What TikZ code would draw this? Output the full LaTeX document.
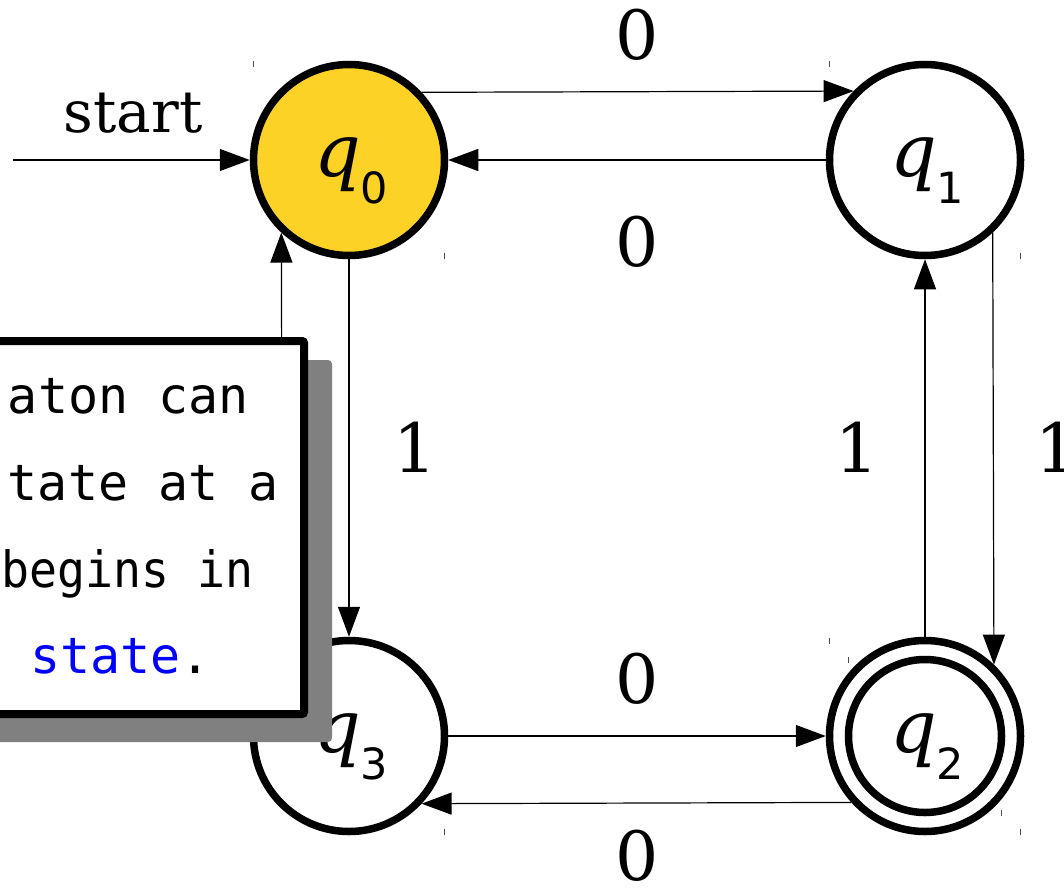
\documentclass[tikz,border=0pt]{standalone}
\usepackage{fontspec}
\setmainfont{DejaVu Serif}
\setsansfont{DejaVu Sans}
\setmonofont{DejaVu Sans Mono}
\usetikzlibrary{arrows.meta}
\definecolor{stateyellow}{HTML}{FDD227}
\definecolor{shadowgray}{HTML}{808080}
\definecolor{noteblue}{HTML}{0000FF}
\newcommand{\qsubscript}[1]{\raisebox{-27pt}{\sffamily\fontsize{43}{43}\selectfont #1}}
\newcommand{\qname}[1]{{\itshape q}\qsubscript{#1}}
\begin{document}
\begin{tikzpicture}[x=1pt,y=-1pt,
  state/.style={circle, draw=black, line width=7.5pt, minimum size=191pt, inner sep=0pt, fill=white},
  edge/.style={draw=black, line width=1.2pt, -{Triangle[length=30pt,width=22pt]}},
  elabel/.style={font=\fontsize{68}{68}\selectfont, inner sep=0pt},
  qlabel/.style={font=\fontsize{73}{73}\selectfont, inner sep=0pt, anchor=base west},
  tickmark/.style={line width=1.5pt, draw=black!70},
  notebox/.style={fill=white, draw=black, line width=8pt, rounded corners=2pt},
  noteshadow/.style={fill=shadowgray, rounded corners=4pt},
  notetext/.style={font=\ttfamily\fontsize{50}{50}\selectfont, inner sep=0pt}
]
\useasboundingbox (0,0) rectangle (1064,888);

% states
\node[state, fill=stateyellow] (q0) at (349,160) {};
\node[state] (q1) at (925,160) {};
\node[state] (q2) at (925,736) {};
\node[state] (q3) at (349,736) {};
\draw[line width=7.5pt] (q2.center) circle[radius=76.5];

% state labels
\node[qlabel] (lq0) at (314,176) {\qname{0}};
\node[qlabel] (lq1) at (890,176) {\qname{1}};
\node[qlabel] (lq2) at (890,752) {\qname{2}};
\node[qlabel] (lq3) at (314,752) {\qname{3}};

% start arrow
\coordinate (startpt) at (13,160);
\draw[edge] (startpt) -- (q0.west);
\node[font=\fontsize{58}{58}\selectfont, inner sep=0pt, anchor=base] (startlbl) at (133,132) {start};

% transitions
\draw[edge] (q0.43.4) -- (q1.136.6);
\draw[edge] (q1.west) -- (q0.east);
\draw[edge] (q0.south) -- (q3.north);
\draw[edge] (q3.132.5) -- (q0.227.5);
\draw[edge] (q2.north) -- (q1.south);
\draw[edge] (q1.313.4) -- (q2.46.6);
\draw[edge] (q3.east) -- (q2.west);
\draw[edge] (q2.222.5) -- (q3.317.5);

% transition labels
\node[elabel] (l01) at (637,35) {0};
\node[elabel] (l10) at (637,242) {0};
\node[elabel] (l32) at (637,679) {0};
\node[elabel] (l23) at (637,856) {0};
\node[elabel] (l03) at (415,447) {1};
\node[elabel] (l21) at (857,447) {1};
\node[elabel] (l12) at (1057,447) {1};

% bounding-box corner ticks
\foreach \cx/\cy/\r in {349/160/95.5, 925/160/95.5, 925/736/95.5, 925/736/76.5, 349/736/95.5} {
  \draw[tickmark] (\cx-\r,\cy-\r-3) -- (\cx-\r,\cy-\r+3);
  \draw[tickmark] (\cx+\r,\cy+\r-3) -- (\cx+\r,\cy+\r+3);
}

% note box
\path[noteshadow] (-20,360) rectangle (332,742);
\path[notebox] (-20,341) rectangle (304,714);
\node[notetext, anchor=base east] (n1) at (249,413) {aton can};
\node[notetext, anchor=base east] (n2) at (279,500) {tate at a};
\node[notetext, anchor=base east] (n3) at (254,587) {\scalebox{0.93}[1]{begins in}};
\node[notetext, anchor=base west] (n4) at (30,673) {\textcolor{noteblue}{state}.};
\end{tikzpicture}
\end{document}
